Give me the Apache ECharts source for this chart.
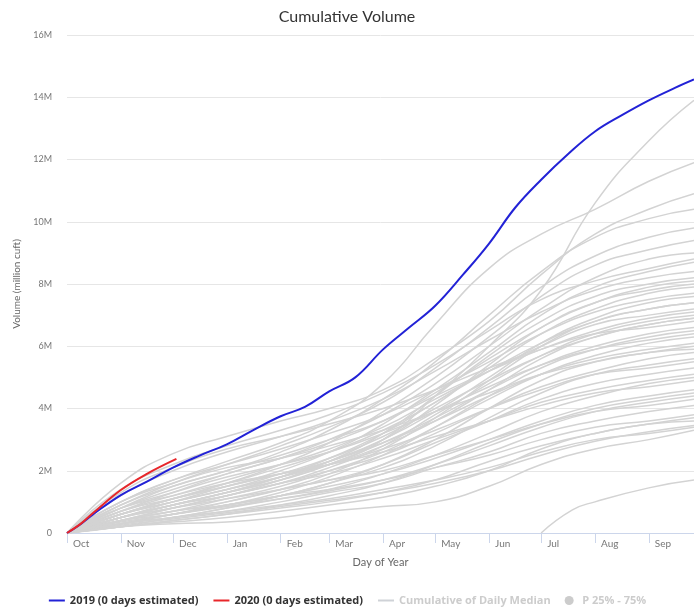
<!DOCTYPE html>
<html>
<head>
<meta charset="utf-8">
<script src="https://cdn.jsdelivr.net/npm/echarts@6/dist/echarts.min.js"></script>
<style>
  html, body { margin: 0; padding: 0; background: #fff; }
  #main { width: 694px; height: 611px; }
</style>
</head>
<body>
<div id="main"></div>
<script>
// day index counted from Oct 1 (water year)
const monthStarts = [0, 31, 61, 92, 123, 151, 182, 212, 243, 273, 304, 335];
const monthNames = ['Oct', 'Nov', 'Dec', 'Jan', 'Feb', 'Mar', 'Apr', 'May', 'Jun', 'Jul', 'Aug', 'Sep'];

// values in million cuft
const days2019 = [0, 7, 15, 31, 46, 61, 76, 92, 107, 123, 137, 151, 166, 182, 197, 212, 228, 243, 258, 273, 289, 304, 320, 335, 350, 361];
const vol2019 = [0, 0.25, 0.6, 1.22, 1.65, 2.1, 2.48, 2.85, 3.3, 3.75, 4.05, 4.55, 5.0, 5.9, 6.6, 7.3, 8.3, 9.3, 10.45, 11.35, 12.2, 12.9, 13.44, 13.9, 14.3, 14.57];

const days2020 = [0, 8, 15, 31, 46, 63];
const vol2020 = [0, 0.3, 0.64, 1.38, 1.9, 2.38];

// historical years, sampled at month starts + last visible day
const histDays = [0, 31, 61, 92, 123, 151, 182, 212, 243, 273, 304, 335, 361];
const history = [
  [0, 0.5, 0.9, 1.3, 1.7, 2.2, 3.0, 4.4, 6.0, 7.8, 10.6, 12.6, 13.9],
  [0, 1.0, 1.7, 2.3, 2.9, 3.6, 4.8, 6.7, 8.5, 9.6, 10.4, 11.3, 11.9],
  [0, 1.6, 2.55, 3.1, 3.6, 4.0, 4.6, 5.6, 6.8, 8.3, 9.6, 10.4, 10.9],
  [0, 0.8, 1.5, 2.0, 2.6, 3.3, 4.3, 5.5, 7.0, 8.4, 9.5, 10.1, 10.4],
  [0, 0.9, 1.6, 2.2, 2.8, 3.4, 4.2, 5.3, 6.6, 7.9, 8.9, 9.5, 9.8],
  [0, 0.6, 1.1, 1.6, 2.2, 2.9, 3.9, 5.0, 6.3, 7.6, 8.6, 9.1, 9.4],
  [0, 0.7, 1.3, 1.9, 2.4, 3.0, 3.8, 4.8, 6.0, 7.2, 8.2, 8.8, 9.0],
  [0, 1.4, 2.2, 2.8, 3.3, 3.8, 4.5, 5.4, 6.5, 7.5, 8.1, 8.5, 8.8],
  [0, 0.5, 1.0, 1.5, 2.0, 2.6, 3.5, 4.6, 5.8, 7.0, 7.9, 8.4, 8.7],
  [0, 1.2, 2.0, 2.6, 3.1, 3.6, 4.3, 5.2, 6.2, 7.1, 7.8, 8.2, 8.4],
  [0, 0.4, 0.8, 1.2, 1.7, 2.3, 3.2, 4.4, 5.7, 6.8, 7.6, 8.0, 8.2],
  [0, 0.8, 1.4, 1.9, 2.4, 2.9, 3.6, 4.5, 5.6, 6.6, 7.4, 7.9, 8.1],
  [0, 0.6, 1.0, 1.4, 1.8, 2.3, 3.0, 4.1, 5.4, 6.6, 7.4, 7.8, 8.0],
  [0, 0.6, 1.1, 1.6, 2.1, 2.6, 3.3, 4.2, 5.3, 6.4, 7.2, 7.7, 7.9],
  [0, 1.0, 1.7, 2.2, 2.7, 3.2, 3.8, 4.6, 5.5, 6.4, 7.1, 7.5, 7.7],
  [0, 0.5, 0.9, 1.3, 1.8, 2.3, 3.0, 3.9, 5.0, 6.1, 6.9, 7.4, 7.6],
  [0, 0.5, 0.9, 1.3, 1.8, 2.4, 3.2, 4.2, 5.2, 6.1, 6.8, 7.2, 7.4],
  [0, 0.3, 0.6, 1.0, 1.4, 1.9, 2.7, 3.7, 4.9, 6.0, 6.8, 7.2, 7.4],
  [0, 0.7, 1.2, 1.7, 2.2, 2.7, 3.4, 4.3, 5.2, 6.0, 6.7, 7.0, 7.2],
  [0, 0.9, 1.5, 2.0, 2.5, 3.0, 3.6, 4.4, 5.2, 5.9, 6.5, 6.9, 7.1],
  [0, 0.4, 0.8, 1.2, 1.6, 2.1, 2.8, 3.8, 4.8, 5.7, 6.4, 6.8, 7.0],
  [0, 0.6, 1.0, 1.4, 1.9, 2.4, 3.1, 4.0, 4.9, 5.7, 6.3, 6.7, 6.9],
  [0, 0.6, 1.0, 1.4, 1.8, 2.2, 2.8, 3.6, 4.6, 5.6, 6.3, 6.7, 6.9],
  [0, 1.3, 2.1, 2.7, 3.1, 3.5, 4.0, 4.6, 5.3, 5.9, 6.4, 6.6, 6.8],
  [0, 0.5, 0.9, 1.3, 1.7, 2.2, 2.9, 3.7, 4.6, 5.4, 6.0, 6.4, 6.6],
  [0, 0.3, 0.6, 0.9, 1.3, 1.8, 2.5, 3.4, 4.4, 5.3, 5.9, 6.3, 6.5],
  [0, 0.8, 1.3, 1.8, 2.2, 2.6, 3.2, 3.9, 4.7, 5.4, 5.9, 6.2, 6.4],
  [0, 0.4, 0.7, 1.1, 1.5, 2.0, 2.6, 3.4, 4.3, 5.1, 5.7, 6.1, 6.3],
  [0, 0.6, 1.1, 1.5, 1.9, 2.3, 2.9, 3.6, 4.4, 5.1, 5.6, 5.9, 6.1],
  [0, 0.2, 0.5, 0.8, 1.2, 1.6, 2.2, 3.0, 4.0, 4.9, 5.5, 5.8, 6.0],
  [0, 1.0, 1.6, 2.1, 2.4, 2.8, 3.3, 3.9, 4.5, 5.1, 5.5, 5.8, 5.9],
  [0, 0.5, 0.8, 1.2, 1.6, 2.0, 2.5, 3.2, 4.0, 4.7, 5.2, 5.6, 5.8],
  [0, 0.3, 0.6, 0.9, 1.2, 1.6, 2.1, 2.8, 3.7, 4.5, 5.1, 5.4, 5.6],
  [0, 0.7, 1.1, 1.5, 1.9, 2.2, 2.7, 3.3, 4.0, 4.6, 5.1, 5.3, 5.5],
  [0, 0.4, 0.7, 1.0, 1.4, 1.7, 2.2, 2.9, 3.6, 4.3, 4.8, 5.1, 5.3],
  [0, 0.5, 0.9, 1.2, 1.6, 1.9, 2.4, 3.0, 3.6, 4.2, 4.6, 4.9, 5.1],
  [0, 0.3, 0.5, 0.8, 1.1, 1.4, 1.9, 2.5, 3.2, 3.9, 4.4, 4.8, 5.0],
  [0, 0.8, 1.2, 1.6, 1.9, 2.2, 2.6, 3.1, 3.6, 4.1, 4.5, 4.7, 4.9],
  [0, 0.4, 0.6, 0.9, 1.2, 1.5, 1.9, 2.4, 3.0, 3.6, 4.1, 4.4, 4.6],
  [0, 0.2, 0.4, 0.6, 0.9, 1.2, 1.6, 2.2, 2.9, 3.5, 4.0, 4.3, 4.5],
  [0, 0.35, 0.6, 0.85, 1.1, 1.35, 1.7, 2.2, 2.8, 3.4, 3.9, 4.2, 4.4],
  [0, 0.5, 0.8, 1.1, 1.4, 1.7, 2.0, 2.5, 3.0, 3.5, 3.9, 4.1, 4.3],
  [0, 0.3, 0.5, 0.7, 1.0, 1.3, 1.6, 2.1, 2.6, 3.2, 3.6, 3.9, 4.1],
  [0, 0.4, 0.7, 0.9, 1.2, 1.4, 1.7, 2.1, 2.5, 3.0, 3.4, 3.6, 3.8],
  [0, 0.2, 0.35, 0.5, 0.7, 0.9, 1.15, 1.5, 2.0, 2.7, 3.2, 3.5, 3.7],
  [0, 0.2, 0.4, 0.6, 0.8, 1.0, 1.3, 1.7, 2.3, 2.8, 3.2, 3.5, 3.6],
  [0, 0.25, 0.45, 0.65, 0.85, 1.05, 1.3, 1.6, 2.0, 2.5, 2.95, 3.25, 3.45],
  [0, 0.3, 0.5, 0.7, 0.9, 1.1, 1.4, 1.7, 2.1, 2.6, 3.0, 3.2, 3.4],
  [0, 0.2, 0.3, 0.35, 0.5, 0.7, 0.85, 1.0, 1.5, 2.2, 2.7, 3.0, 3.3]
];

// one year whose record begins on Jul 1
const lateDays = [273, 291, 304, 335, 361];
const lateVol = [0, 0.74, 1.0, 1.45, 1.7];

const FONT = 'Lato, "Open Sans", sans-serif';
const LEGEND_FONT = '"Open Sans", Lato, sans-serif';

let series = history.map((vals, i) => ({
    type: 'line',
    name: 'hist' + i,
    data: histDays.map((d, j) => [d, vals[j]]),
    showSymbol: false,
    smooth: true,
    silent: true,
    lineStyle: { color: '#d3d3d3', width: 1.5 }
}));

series.push({
    type: 'line',
    name: 'histLate',
    data: lateDays.map((d, j) => [d, lateVol[j]]),
    showSymbol: false,
    smooth: true,
    silent: true,
    lineStyle: { color: '#d3d3d3', width: 1.5 }
});

series.push({
    type: 'line',
    name: '2019 (0 days estimated)',
    data: days2019.map((d, j) => [d, vol2019[j]]),
    showSymbol: false,
    smooth: 0.4,
    color: '#2222d6',
    lineStyle: { color: '#2222d6', width: 2 }
});

series.push({
    type: 'line',
    name: '2020 (0 days estimated)',
    data: days2020.map((d, j) => [d, vol2020[j]]),
    showSymbol: false,
    smooth: 0.4,
    color: '#e8262a',
    lineStyle: { color: '#e8262a', width: 2 }
});

// hidden in the reference (legend toggled off)
series.push({
    type: 'line',
    name: 'Cumulative of Daily Median',
    data: [],
    showSymbol: false,
    color: '#cccccc',
    lineStyle: { color: '#cccccc', width: 2 }
});
series.push({
    type: 'line',
    name: 'P 25% - 75%',
    data: [],
    showSymbol: false,
    color: '#cccccc'
});

const noDot = { opacity: 0 };

const myChart = echarts.init(document.getElementById('main'));
const option = {
    animation: false,
    backgroundColor: '#fff',
    title: {
        text: 'Cumulative Volume',
        left: 'center',
        top: 4,
        textStyle: { fontFamily: FONT, fontWeight: 'normal', fontSize: 16, color: '#333' }
    },
    grid: { left: 67, right: 0, top: 35, bottom: 78 },
    legend: {
        data: [
            { name: '2019 (0 days estimated)', itemStyle: noDot },
            { name: '2020 (0 days estimated)', itemStyle: noDot },
            { name: 'Cumulative of Daily Median', itemStyle: noDot },
            { name: 'P 25% - 75%', icon: 'circle' }
        ],
        selected: {
            'Cumulative of Daily Median': false,
            'P 25% - 75%': false
        },
        left: 'center',
        top: 590,
        itemWidth: 16,
        itemHeight: 9,
        itemGap: 14,
        inactiveColor: '#cccccc',
        textStyle: { fontFamily: LEGEND_FONT, fontWeight: 'bold', fontSize: 11, color: '#333' }
    },
    xAxis: {
        type: 'value',
        min: 0,
        max: 361,
        name: 'Day of Year',
        nameLocation: 'middle',
        nameGap: 24,
        nameTextStyle: { fontFamily: FONT, fontSize: 11, color: '#666' },
        axisLine: { show: true, lineStyle: { color: '#ccd6eb', width: 1 } },
        axisTick: { show: true, customValues: monthStarts, length: 10, lineStyle: { color: '#ccd6eb' } },
        axisLabel: {
            customValues: monthStarts,
            formatter: v => monthNames[monthStarts.indexOf(v)],
            align: 'left',
            padding: [0, 0, 0, 6],
            margin: 6,
            fontFamily: FONT,
            fontSize: 10,
            color: '#777'
        },
        splitLine: { show: false }
    },
    yAxis: {
        type: 'value',
        min: 0,
        max: 16,
        interval: 2,
        name: 'Volume (million cuft)',
        nameLocation: 'middle',
        nameGap: 45,
        nameTextStyle: { fontFamily: FONT, fontSize: 10, color: '#666' },
        axisLine: { show: false },
        axisTick: { show: false },
        axisLabel: {
            formatter: v => v === 0 ? '0' : v + 'M',
            margin: 15,
            fontFamily: FONT,
            fontSize: 9,
            color: '#777'
        },
        splitLine: { lineStyle: { color: '#e6e6e6' } }
    },
    series: series
};
myChart.setOption(option);
window.addEventListener('resize', () => { myChart.resize(); });
</script>
</body>
</html>
